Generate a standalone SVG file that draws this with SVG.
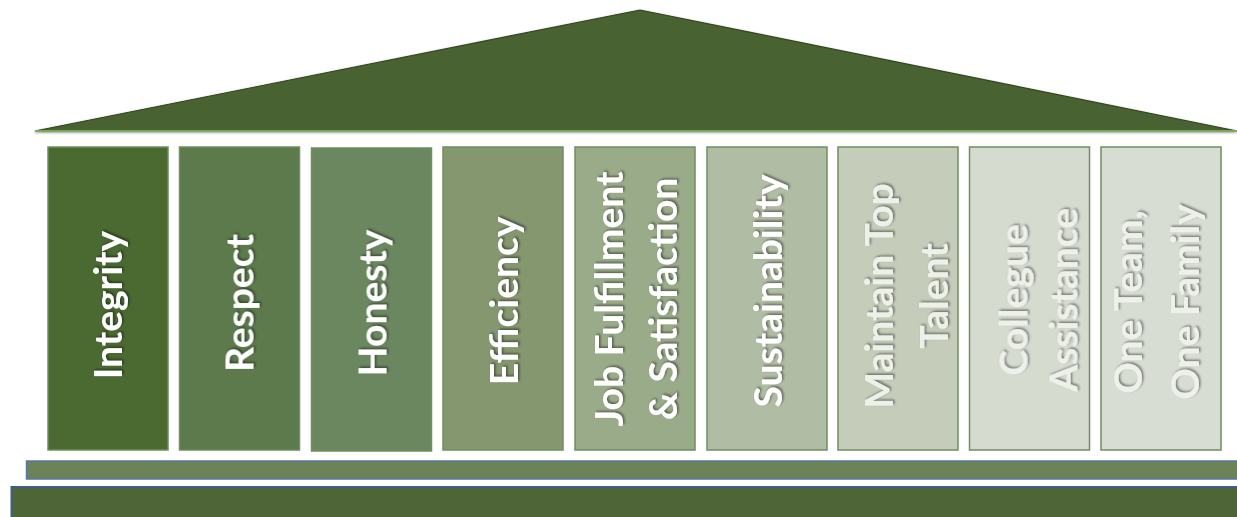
<svg xmlns="http://www.w3.org/2000/svg" width="1237" height="517" viewBox="0 0 1237 517">
<defs>
<style>
.p{stroke:#6f8f5c;stroke-width:1.5}
.t{font-family:Lato,"Open Sans",sans-serif;font-weight:bold;font-size:39px;fill:#ffffff;text-anchor:middle;filter:url(#sh)}
.tl{fill:#eef0ea}
</style>
<filter id="sh" x="-20%" y="-40%" width="140%" height="180%">
<feDropShadow dx="1.5" dy="1.5" stdDeviation="1.2" flood-color="#000" flood-opacity="0.45"/>
</filter>
<filter id="rs" x="-5%" y="-20%" width="110%" height="140%">
<feDropShadow dx="0" dy="1" stdDeviation="1" flood-color="#1e2e12" flood-opacity="0.6"/>
</filter>
</defs>
<rect width="1237" height="517" fill="#ffffff"/>
<g id="roof">
<polygon points="35,131 640,10 1237,131" fill="#4a6233" stroke="#2f4520" stroke-width="1.2" filter="url(#rs)"/>
<line x1="35" y1="131" x2="1237" y2="131" stroke="#8dbd68" stroke-width="1.5"/>
</g>
<g id="pillar-integrity">
<rect class="p" x="48" y="147" width="120" height="303" fill="#4a6a32"/>
<text class="t" transform="translate(108,305) rotate(-90)" y="14">Integrity</text>
</g>
<g id="pillar-respect">
<rect class="p" x="179.5" y="147" width="120" height="303" fill="#5c7a4c"/>
<text class="t" transform="translate(239.5,303) rotate(-90)" y="14">Respect</text>
</g>
<g id="pillar-honesty">
<rect class="p" x="311.5" y="148" width="120" height="303" fill="#6b8760"/>
<text class="t" transform="translate(371.5,303) rotate(-90)" y="15">Honesty</text>
</g>
<g id="pillar-efficiency">
<rect class="p" x="443" y="147" width="120" height="303" fill="#85976f"/>
<text class="t" transform="translate(503,301) rotate(-90)" y="15">Efficiency</text>
</g>
<g id="pillar-job">
<rect class="p" x="575" y="147" width="120" height="303" fill="#9aab8a"/>
<text class="t" transform="translate(635,299) rotate(-90)"><tspan x="0" y="-12">Job Fulfillment</tspan><tspan x="0" y="42">&amp; Satisfaction</tspan></text>
</g>
<g id="pillar-sustainability">
<rect class="p" x="707" y="147" width="120" height="303" fill="#b0bca3"/>
<text class="t" transform="translate(767,291) rotate(-90)" y="15">Sustainability</text>
</g>
<g id="pillar-talent">
<rect class="p" x="838" y="147" width="120" height="303" fill="#c5cdba"/>
<text class="t tl" transform="translate(898,296) rotate(-90)"><tspan x="0" y="-5">Maintain Top</tspan><tspan x="0" y="50">Talent</tspan></text>
</g>
<g id="pillar-collegue">
<rect class="p" x="969.5" y="147" width="120" height="303" fill="#d6dbd0"/>
<text class="t tl" transform="translate(1029.5,300) rotate(-90)"><tspan x="0" y="-2">Collegue</tspan><tspan x="0" y="48">Assistance</tspan></text>
</g>
<g id="pillar-team">
<rect class="p" x="1101" y="147" width="120" height="303" fill="#d8ddd4"/>
<text class="t tl" transform="translate(1161,302) rotate(-90)"><tspan x="0" y="-19">One Team,</tspan><tspan x="0" y="38">One Family</tspan></text>
</g>
<g id="base">
<rect x="26.5" y="461" width="1220" height="18" fill="#6b8356" stroke="#5a77a6" stroke-width="1.5"/>
<rect x="11.5" y="487" width="1240" height="40" fill="#4e6538" stroke="#3f5d8c" stroke-width="2"/>
</g>
</svg>
